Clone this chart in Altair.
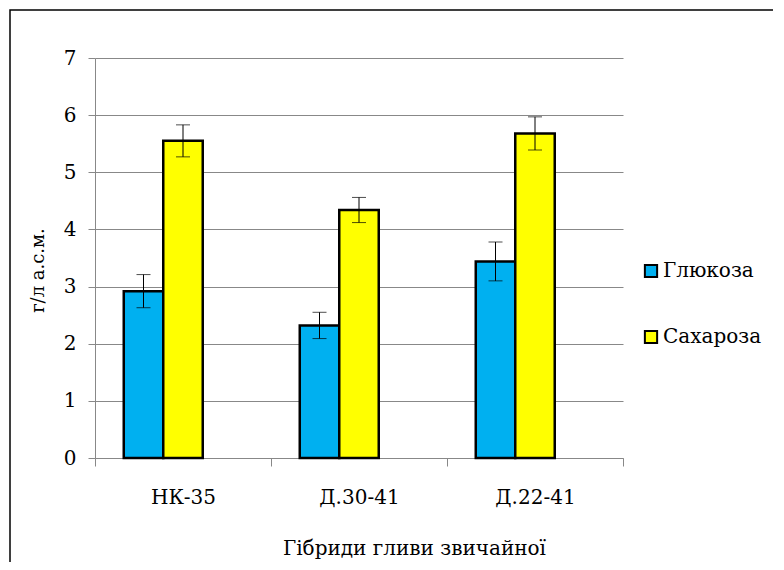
import altair as alt
import pandas as pd

groups = ["НК-35", "Д.30-41", "Д.22-41"]
series = ["Глюкоза", "Сахароза"]
glucose = [2.92, 2.32, 3.44]
glucose_err = [0.29, 0.23, 0.34]
sucrose = [5.55, 4.34, 5.68]
sucrose_err = [0.28, 0.22, 0.29]

rows = []
for g, v, e in zip(groups, glucose, glucose_err):
    rows.append({"group": g, "series": series[0], "value": v, "lo": v - e, "hi": v + e})
for g, v, e in zip(groups, sucrose, sucrose_err):
    rows.append({"group": g, "series": series[1], "value": v, "lo": v - e, "hi": v + e})
df = pd.DataFrame(rows)

FONT = "DejaVu Serif"

x = alt.X("group:N", sort=groups,
          scale=alt.Scale(paddingInner=0, paddingOuter=0),
          axis=alt.Axis(title="Гібриди гливи звичайної", labelAngle=0,
                        tickBand="extent", tickSize=8, tickColor="#888888",
                        domainColor="#888888", labelPadding=21,
                        labelFont=FONT, titleFont=FONT,
                        labelFontSize=20, titleFontSize=20,
                        titleFontWeight="normal", titleX=319, titleY=90,
                        titleBaseline="middle", grid=False))
xo = alt.XOffset("series:N",
                 scale=alt.Scale(domain=series + ["_"], paddingInner=0, paddingOuter=0.728))
y_scale = alt.Scale(domain=[0, 7], nice=False)

bars = alt.Chart(df).mark_bar(stroke="black", strokeWidth=2.5).encode(
    x=x, xOffset=xo,
    y=alt.Y("value:Q", scale=y_scale,
            axis=alt.Axis(title="г/л а.с.м.", values=[0, 1, 2, 3, 4, 5, 6, 7], format="d",
                          tickSize=7, tickColor="#888888", domainColor="#888888",
                          gridColor="#888888", gridWidth=1,
                          labelFont=FONT, titleFont=FONT,
                          labelFontSize=20, labelPadding=12,
                          titleFontSize=18, titleFontWeight="normal",
                          titleX=-57, titleY=212, titleBaseline="middle")),
    color=alt.Color("series:N", scale=alt.Scale(domain=series, range=["#00B0F0", "#FFFF00"]),
                    legend=alt.Legend(title=None, orient="none", legendX=546, legendY=203,
                                      symbolType="square", symbolSize=150,
                                      symbolStrokeColor="black", symbolStrokeWidth=2,
                                      labelFont=FONT,
                                      labelFontSize=20, rowPadding=44, labelOffset=2)),
)

rules = alt.Chart(df).mark_rule(color="black", strokeWidth=1).encode(
    x=x, xOffset=xo, y=alt.Y("lo:Q", scale=y_scale), y2="hi:Q")
caps_hi = alt.Chart(df).mark_tick(color="black", thickness=1, size=14).encode(
    x=x, xOffset=xo, y=alt.Y("hi:Q", scale=y_scale))
caps_lo = alt.Chart(df).mark_tick(color="black", thickness=1, size=14).encode(
    x=x, xOffset=xo, y=alt.Y("lo:Q", scale=y_scale))

border = alt.Chart(alt.Data(values=[{}])).mark_rect(
    fillOpacity=0, stroke="black", strokeWidth=1.5).encode(
    x=alt.value(-85), x2=alt.value(720), y=alt.value(-48), y2=alt.value(620))

chart = alt.layer(border, bars, rules, caps_hi, caps_lo).properties(
    width=528, height=400,
    autosize=alt.AutoSizeParams(type="none"),
    padding={"left": 87, "top": 50, "right": 150, "bottom": 104},
).configure(font=FONT).configure_view(stroke=None).configure_axis(
    labelColor="black", titleColor="black"
).configure_legend(labelColor="black")

chart.save("out.html", embed_options={"renderer": "svg", "actions": False})
